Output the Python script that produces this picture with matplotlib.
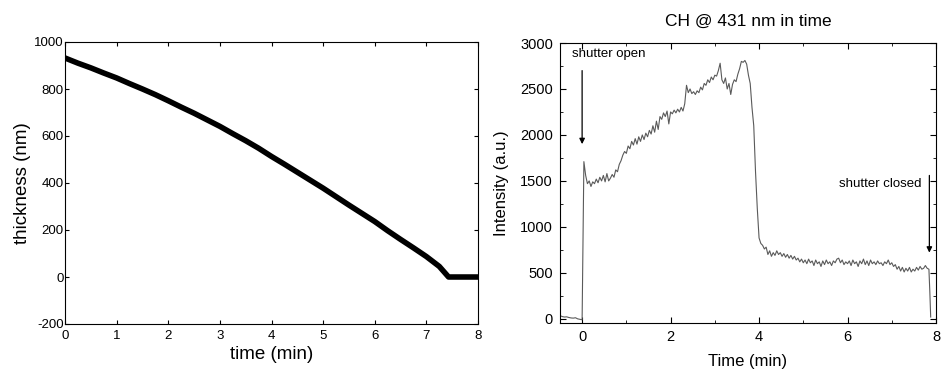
import numpy as np
import matplotlib
matplotlib.use("Agg")
import matplotlib.pyplot as plt
from matplotlib.ticker import MultipleLocator

plt.rcParams['font.family'] = ['Liberation Sans', 'DejaVu Sans']
plt.rcParams['axes.unicode_minus'] = False

# left panel: film thickness vs time
thick_t = [0, 0.25, 0.5, 0.75, 1.0, 1.25, 1.5, 1.75, 2.0, 2.25, 2.5, 2.75, 3.0, 3.25,
           3.5, 3.75, 4.0, 4.25, 4.5, 4.75, 5.0, 5.25, 5.5, 5.75, 6.0, 6.25, 6.5,
           6.75, 7.0, 7.25, 7.43, 7.5, 7.75, 8.0]
thickness = [932, 910, 890, 868, 847, 823, 800, 776, 750, 723, 697, 669, 641, 610,
             580, 548, 513, 480, 446, 412, 378, 342, 306, 271, 236, 197, 160,
             124, 87, 45, 0, 0, 0, 0]

# right panel: CH emission at 431 nm
pre_t = [-0.5, -0.45, -0.4, -0.35, -0.3, -0.25, -0.2, -0.15, -0.1, -0.05, 0.0]
pre_int = [35, 25, 20, 22, 15, 10, 8, 12, 0, -5, -10]

# sampled every 0.04 min from 0.04 min on
ch_int = [1710, 1560, 1470, 1500, 1440, 1490, 1470, 1520, 1480, 1540,
          1500, 1560, 1490, 1580, 1500, 1530, 1570, 1540, 1620, 1600,
          1680, 1720, 1780, 1820, 1800, 1880, 1850, 1930, 1890, 1960,
          1900, 1980, 1930, 2000, 1950, 2020, 1980, 2050, 2010, 2100,
          2030, 2150, 2060, 2200, 2170, 2240, 2200, 2260, 2120, 2250,
          2230, 2270, 2240, 2280, 2250, 2300, 2260, 2340, 2540, 2460,
          2500, 2450, 2470, 2440, 2480, 2460, 2520, 2490, 2560, 2540,
          2600, 2570, 2630, 2600, 2650, 2640, 2700, 2780, 2600, 2560,
          2620, 2500, 2560, 2440, 2550, 2600, 2580, 2660, 2720, 2800,
          2790, 2810, 2770, 2650, 2560, 2300, 2100, 1600, 1200, 880,
          820, 800, 760, 780, 700, 740, 680, 720, 690, 740,
          700, 720, 680, 710, 670, 700, 660, 690, 650, 680,
          640, 660, 620, 650, 610, 640, 600, 650, 610, 630,
          580, 640, 600, 620, 570, 630, 590, 640, 600, 620,
          580, 630, 610, 650, 660, 610, 640, 590, 620, 600,
          630, 580, 640, 600, 620, 570, 630, 600, 650, 590,
          630, 580, 640, 600, 620, 590, 630, 600, 610, 580,
          620, 600, 640, 590, 610, 570, 590, 540, 570, 520,
          560, 510, 550, 520, 560, 510, 540, 520, 560, 530,
          570, 540, 550, 580, 550, 540]
post_t = [7.86, 7.88]
post_int = [300, 20]

ch_t = list(pre_t) + list(0.04 + 0.04 * np.arange(len(ch_int))) + post_t
ch_all = pre_int + ch_int + post_int

fig = plt.figure(figsize=(9.5, 3.78), dpi=100)

# left plot
ax1 = fig.add_axes([65 / 950, 1 - 324 / 378, 413 / 950, 282 / 378])
ax1.plot(thick_t, thickness, color='black', lw=4, solid_capstyle='round')
ax1.set_xlim(0, 8)
ax1.set_ylim(-200, 1000)
ax1.set_xticks(range(0, 9))
ax1.set_yticks(range(-200, 1001, 200))
ax1.tick_params(direction='in', top=True, right=True, length=3, labelsize=9.5)
ax1.tick_params(axis='y', pad=1)
ax1.tick_params(axis='x', pad=4)
ax1.set_xlabel('time (min)', fontsize=13.5, labelpad=3)
ax1.set_ylabel('thickness (nm)', fontsize=13.5, labelpad=2)

# right plot
ax2 = fig.add_axes([560 / 950, 1 - 323 / 378, 376 / 950, 280 / 378])
ax2.plot(ch_t, ch_all, color='#5a5a5a', lw=0.8)
ax2.set_xlim(-0.5, 8)
ax2.set_ylim(-45, 3000)
ax2.set_xticks([0, 2, 4, 6, 8])
ax2.set_yticks(range(0, 3001, 500))
ax2.xaxis.set_minor_locator(MultipleLocator(1))
ax2.yaxis.set_minor_locator(MultipleLocator(250))
ax2.tick_params(which='both', direction='in', top=True, right=True, labelsize=10.5)
ax2.tick_params(which='major', length=4, pad=5)
ax2.tick_params(which='minor', length=2)
ax2.set_xlabel('Time (min)', fontsize=12, labelpad=7)
ax2.set_ylabel('Intensity (a.u.)', fontsize=12, labelpad=8)
ax2.set_title('CH @ 431 nm in time', fontsize=12.5, pad=12)

ax2.annotate('', xy=(0, 1870), xytext=(0, 2730),
             arrowprops=dict(arrowstyle='-|>', color='black', lw=0.9, mutation_scale=8))
ax2.text(-0.23, 2880, 'shutter open', fontsize=9.5, va='center', ha='left')
ax2.annotate('', xy=(7.85, 690), xytext=(7.85, 1590),
             arrowprops=dict(arrowstyle='-|>', color='black', lw=0.9, mutation_scale=8))
ax2.text(5.8, 1465, 'shutter closed', fontsize=9.5, va='center', ha='left')

fig.savefig('out.png', dpi=100)
